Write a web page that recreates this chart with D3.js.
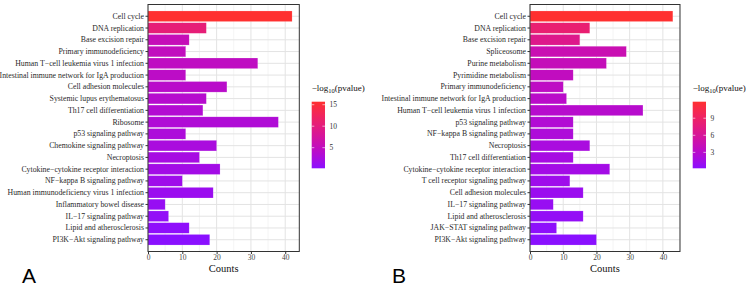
<!DOCTYPE html>
<html><head><meta charset="utf-8">
<script src="https://cdn.jsdelivr.net/npm/d3@7"></script>
<style>body{margin:0;background:#fff}svg{display:block}</style>
</head><body>
<svg id="c" width="752" height="288"></svg>
<script>
const termsA = ["Cell cycle","DNA replication","Base excision repair","Primary immunodeficiency","Human T\u2212cell leukemia virus 1 infection","Intestinal immune network for IgA production","Cell adhesion molecules","Systemic lupus erythematosus","Th17 cell differentiation","Ribosome","p53 signaling pathway","Chemokine signaling pathway","Necroptosis","Cytokine\u2212cytokine receptor interaction","NF\u2212kappa B signaling pathway","Human immunodeficiency virus 1 infection","Inflammatory bowel disease","IL\u221217 signaling pathway","Lipid and atherosclerosis","PI3K\u2212Akt signaling pathway"];
const countsA = [42,17,12,11,32,11,23,17,16,38,11,20,15,21,10,19,5,6,12,18];
const logpA = [15.7,10.5,5.5,5.0,4.7,4.4,4.1,3.8,3.5,3.2,2.9,2.6,2.3,2.0,1.7,1.4,1.1,0.8,0.5,0.2];
const ticksLegA = [5,10,15];

const termsB = ["Cell cycle","DNA replication","Base excision repair","Spliceosome","Purine metabolism","Pyrimidine metabolism","Primary immunodeficiency","Intestinal immune network for IgA production","Human T\u2212cell leukemia virus 1 infection","p53 signaling pathway","NF\u2212kappa B signaling pathway","Necroptosis","Th17 cell differentiation","Cytokine\u2212cytokine receptor interaction","T cell receptor signaling pathway","Cell adhesion molecules","IL\u221217 signaling pathway","Lipid and atherosclerosis","JAK\u2212STAT signaling pathway","PI3K\u2212Akt signaling pathway"];
const countsB = [43,18,15,29,23,13,10,11,34,13,13,18,13,24,12,16,7,16,8,20];
const logpB = [11.9,8.3,6.8,4.5,4.1,3.8,3.5,3.2,3.0,2.6,2.3,2.0,1.8,1.6,1.3,1.1,0.9,0.7,0.4,0.2];
const ticksLegB = [3,6,9];
const xTicks = [0,10,20,30,40];

const svg = d3.select("#c");
const serif = "'Liberation Serif','Times New Roman',serif";
const LOW = "#8A10FF", HIGH = "#FF3030";

function panel(o){
  const g = svg.append("g");
  const x = d3.scaleLinear().domain([0, d3.max(o.counts)*1.05]).range([o.x0, o.x1]);
  const y = d3.scaleBand().domain(o.terms).range([o.y0, o.y1]).paddingInner(0.1).paddingOuter(0.55);
  const [lo, hi] = d3.extent(o.logp);
  const col = d3.scaleLinear().domain([lo, hi]).range([LOW, HIGH]).interpolate(d3.interpolateLab);
  // grid
  const minor = d3.range(5, x.domain()[1], 10);
  g.selectAll(".mg").data(minor).join("line")
    .attr("x1", d=>x(d)).attr("x2", d=>x(d)).attr("y1", o.y0).attr("y2", o.y1)
    .attr("stroke", "#ececec").attr("stroke-width", 0.6);
  g.selectAll(".Mg").data(xTicks.filter(d=>d<=x.domain()[1])).join("line")
    .attr("x1", d=>x(d)).attr("x2", d=>x(d)).attr("y1", o.y0).attr("y2", o.y1)
    .attr("stroke", "#e3e3e3").attr("stroke-width", 1);
  g.selectAll(".hg").data(o.terms).join("line")
    .attr("x1", o.x0).attr("x2", o.x1).attr("y1", d=>y(d)+y.bandwidth()/2).attr("y2", d=>y(d)+y.bandwidth()/2)
    .attr("stroke", "#e3e3e3").attr("stroke-width", 1);
  // bars
  g.selectAll(".bar").data(o.terms).join("rect")
    .attr("x", x(0)).attr("y", d=>y(d))
    .attr("width", (d,i)=>x(o.counts[i])-x(0)).attr("height", y.bandwidth())
    .attr("fill", (d,i)=>col(o.logp[i]))
    .attr("stroke", "rgba(255,255,255,0.35)").attr("stroke-width", 0.5);
  // border
  g.append("rect").attr("x", o.x0).attr("y", o.y0).attr("width", o.x1-o.x0).attr("height", o.y1-o.y0)
    .attr("fill", "none").attr("stroke", "#333").attr("stroke-width", 1);
  // y axis
  const ya = g.append("g").attr("transform", `translate(${o.x0},0)`)
    .call(d3.axisLeft(y).tickSize(2.5).tickPadding(1.5));
  ya.select(".domain").remove();
  ya.selectAll(".tick line").attr("stroke", "#333");
  ya.selectAll("text").attr("font-family", serif).attr("font-size", 7.8).attr("fill", "#2a2a2a");
  // x axis
  const xa = g.append("g").attr("transform", `translate(0,${o.y1})`)
    .call(d3.axisBottom(x).tickValues(xTicks.filter(d=>d<=x.domain()[1])).tickSize(2.5).tickPadding(0.5));
  xa.select(".domain").remove();
  xa.selectAll(".tick line").attr("stroke", "#333");
  xa.selectAll("text").attr("font-family", serif).attr("font-size", 7.5).attr("fill", "#444");
  g.append("text").attr("x", (o.x0+o.x1)/2).attr("y", o.y1+20.5).attr("text-anchor","middle")
    .attr("font-family", serif).attr("font-size", 10.5).attr("fill","#111").text("Counts");
  // legend
  const lx = o.lx, ly0 = 101.7, ly1 = 168.3, lw = 13.3;
  const ls = d3.scaleLinear().domain([lo, hi]).range([ly1, ly0]);
  const gid = "grad"+o.id;
  const grad = svg.append("defs").append("linearGradient").attr("id", gid)
    .attr("x1",0).attr("y1",1).attr("x2",0).attr("y2",0);
  d3.range(0, 1.0001, 0.1).forEach(t=>{
    grad.append("stop").attr("offset", t).attr("stop-color", col(lo + t*(hi-lo)));
  });
  g.append("rect").attr("x", lx).attr("y", ly0).attr("width", lw).attr("height", ly1-ly0).attr("fill", `url(#${gid})`);
  o.legTicks.forEach(v=>{
    g.append("line").attr("x1", lx).attr("x2", lx+2.6).attr("y1", ls(v)).attr("y2", ls(v)).attr("stroke","#fff").attr("stroke-width",0.6);
    g.append("line").attr("x1", lx+lw-2.6).attr("x2", lx+lw).attr("y1", ls(v)).attr("y2", ls(v)).attr("stroke","#fff").attr("stroke-width",0.6);
    g.append("text").attr("x", lx+lw+4.5).attr("y", ls(v)+2.6).attr("font-family", serif)
      .attr("font-size", 7.5).attr("fill","#333").text(v);
  });
  const tt = g.append("text").attr("x", lx).attr("y", 91).attr("font-family", serif).attr("font-size", 9).attr("fill","#111");
  tt.append("tspan").text("\u2212log");
  tt.append("tspan").attr("font-size", 6.5).attr("dy", 2).text("10");
  tt.append("tspan").attr("dy", -2).text("(pvalue)");
  // panel letter
  svg.append("text").attr("x", o.letterX).attr("y", 283).attr("font-family","'Liberation Sans',Arial,sans-serif")
    .attr("font-size", 21).attr("fill","#000").text(o.letter);
}

panel({id:"A", terms:termsA, counts:countsA, logp:logpA, legTicks:ticksLegA,
  x0:148, x1:299.3, y0:4.5, y1:251.5, lx:311.7, letter:"A", letterX:22});
panel({id:"B", terms:termsB, counts:countsB, logp:logpB, legTicks:ticksLegB,
  x0:530, x1:680, y0:4.5, y1:251.5, lx:692.7, letter:"B", letterX:392});
</script>
</body></html>
